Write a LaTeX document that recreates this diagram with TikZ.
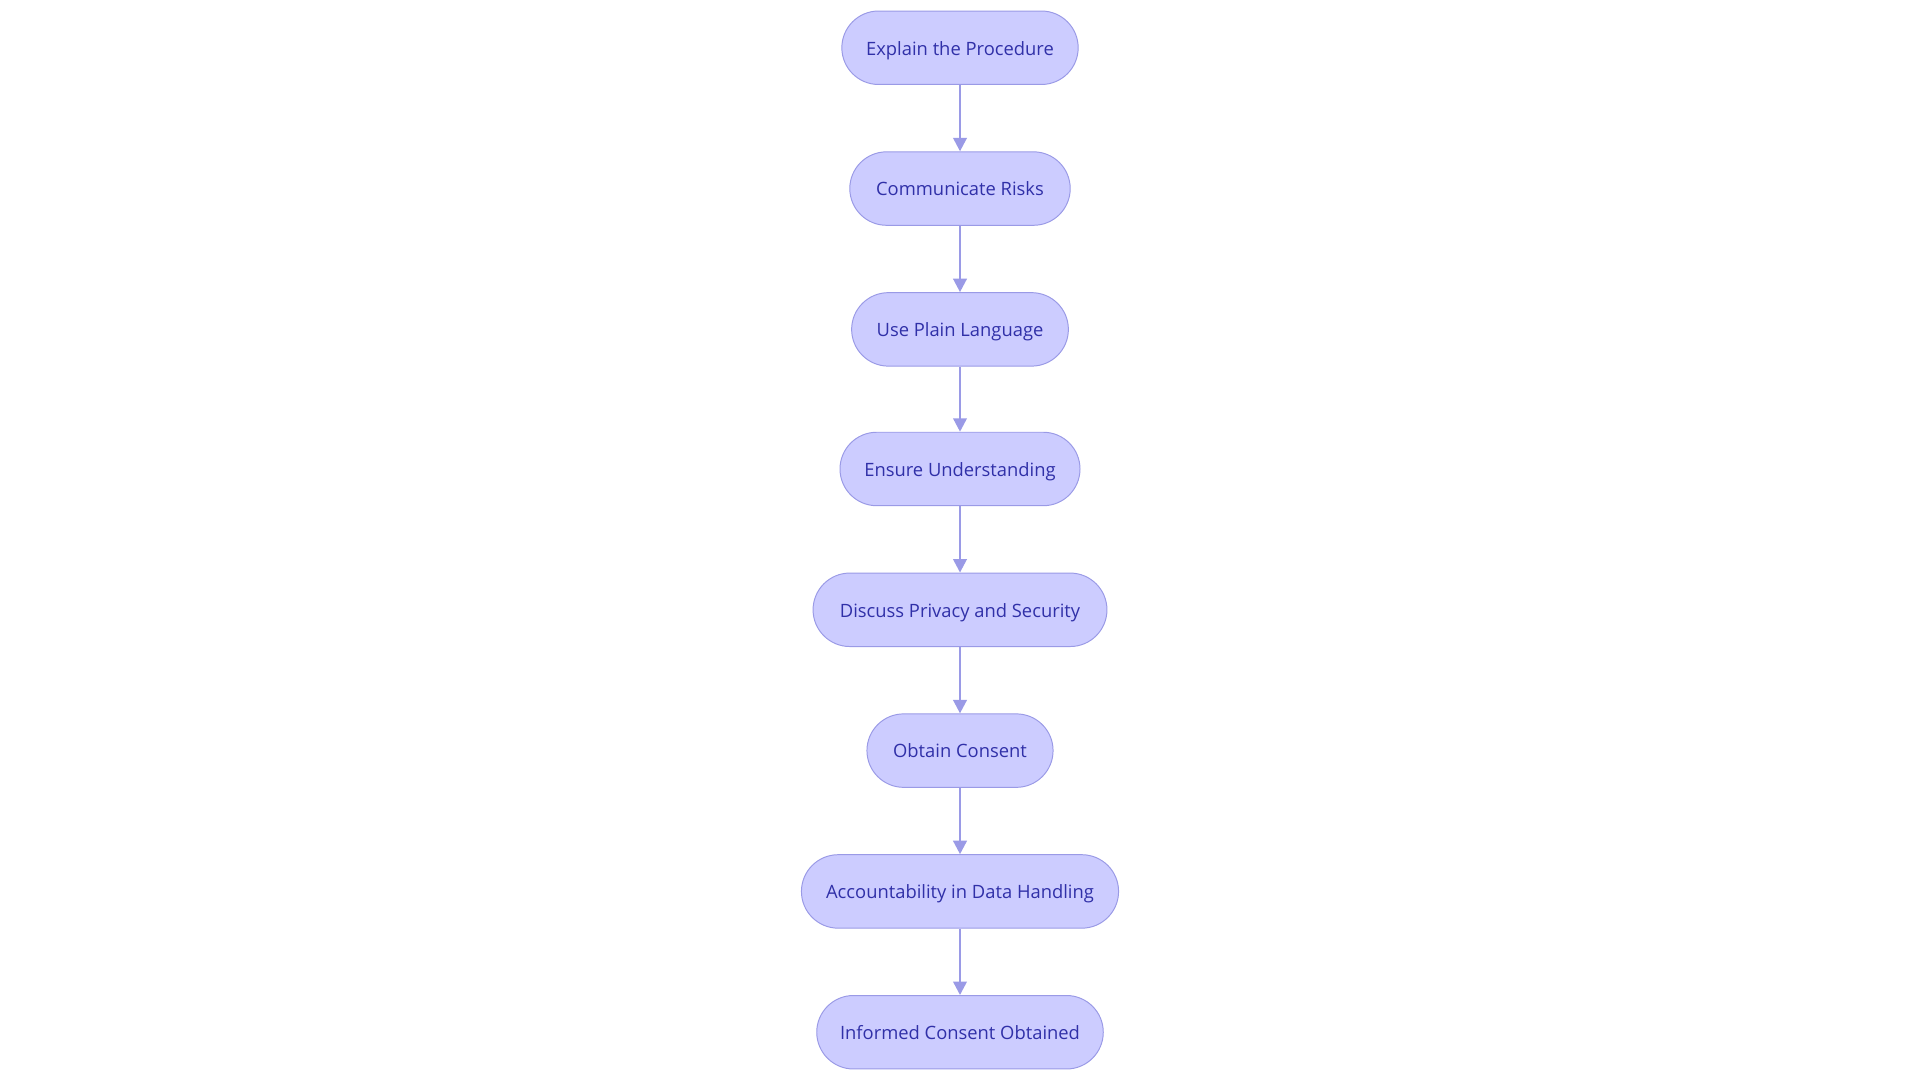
\documentclass[tikz,border=0pt]{standalone}
\usepackage{fontspec}
\setmainfont{Open Sans}
\usetikzlibrary{arrows.meta}
\definecolor{fillc}{HTML}{CCCCFF}
\definecolor{linec}{HTML}{9A9AE6}
\definecolor{textc}{HTML}{3030A8}
\tikzset{
 stepbox/.style={draw=linec,fill=fillc,rounded corners=30pt,minimum height=60pt,text=textc,font=\fontsize{15}{18}\selectfont,inner sep=0pt,line width=0.8pt,text height=14pt,text depth=2pt},
 conn/.style={draw=linec,line width=2pt,-{Triangle[length=11pt,width=11pt]}}
}
\begin{document}
\begin{tikzpicture}[x=1pt,y=-1pt]
\useasboundingbox (0,0) rectangle (1568,882);
\node[stepbox,minimum width=193pt] (a) at (784,39) {Explain the Procedure};
\node[stepbox,minimum width=180pt] (b) at (784,154) {Communicate Risks};
\node[stepbox,minimum width=177pt] (c) at (784,269) {Use Plain Language};
\node[stepbox,minimum width=196pt] (d) at (784,383) {Ensure Understanding};
\node[stepbox,minimum width=240pt] (e) at (784,498) {Discuss Privacy and Security};
\node[stepbox,minimum width=152pt] (f) at (784,613) {Obtain Consent};
\node[stepbox,minimum width=259pt] (g) at (784,728) {Accountability in Data Handling};
\node[stepbox,minimum width=234pt] (h) at (784,843) {Informed Consent Obtained};
\foreach \u/\v in {a/b,b/c,c/d,d/e,e/f,f/g,g/h} \draw[conn] (\u) -- (\v);
\end{tikzpicture}
\end{document}
